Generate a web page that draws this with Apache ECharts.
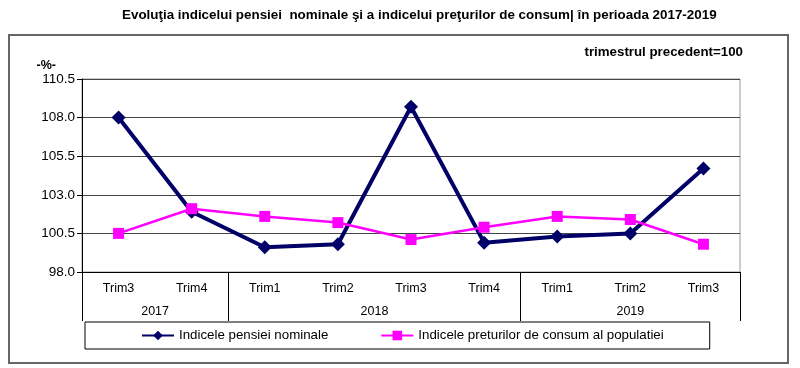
<!DOCTYPE html>
<html><head><meta charset="utf-8">
<script src="https://cdn.jsdelivr.net/npm/echarts@6/dist/echarts.min.js"></script>
<style>html,body{margin:0;padding:0;background:#fff}#c{width:800px;height:368px}</style>
</head><body><div id="c"></div>
<script>
const categories = ['Trim3','Trim4','Trim1','Trim2','Trim3','Trim4','Trim1','Trim2','Trim3'];
const years = ['2017','2018','2019'];
const yearSpans = [2, 4, 3];
const pension = [108.0, 101.9, 99.6, 99.8, 108.7, 99.9, 100.3, 100.5, 104.7];
const prices = [100.5, 102.1, 101.6, 101.2, 100.1, 100.9, 101.6, 101.4, 99.8];
const seriesNames = ['Indicele pensiei nominale', 'Indicele preturilor de consum al populatiei'];
const titleText = 'Evoluţia indicelui pensiei  nominale şi a indicelui preţurilor de consum| în perioada 2017-2019';
const subText = 'trimestrul precedent=100';
const yMin = 98.0, yMax = 110.5, yStep = 2.5;

// year boundaries and centres in category units
const yearBounds = [0];
yearSpans.forEach(s => yearBounds.push(yearBounds[yearBounds.length - 1] + s));
const yearCentres = years.map((y, i) => (yearBounds[i] + yearBounds[i + 1]) / 2);

const font = 'Arial, "Liberation Sans", sans-serif';
const chart = echarts.init(document.getElementById('c'), null, {renderer: 'canvas'});
chart.setOption({
  animation: false,
  textStyle: {fontFamily: font},
  title: [
    {text: titleText, left: 117, top: 4,
     textStyle: {fontFamily: font, fontWeight: 'bold', fontSize: 13.4, color: '#000'}},
    {text: subText, right: 52, top: 41,
     textStyle: {fontFamily: font, fontWeight: 'bold', fontSize: 13.3, color: '#000'}}
  ],
  graphic: [{type: 'rect', shape: {x: 9, y: 35, width: 779, height: 328},
    style: {fill: null, stroke: '#666', lineWidth: 2}, silent: true, z: -1}],
  grid: {left: 82, right: 60, top: 79, bottom: 96, show: true, borderColor: '#999', borderWidth: 1},
  legend: {
    left: 85, top: 322, padding: [7, 46, 7, 56], itemGap: 52,
    borderColor: '#000', borderWidth: 1, itemWidth: 32, itemHeight: 12,
    textStyle: {fontFamily: font, fontSize: 13.3, color: '#000'},
    data: seriesNames
  },
  xAxis: [
    {type: 'category', data: categories, boundaryGap: true,
     axisLine: {lineStyle: {color: '#000', width: 1}},
     axisTick: {interval: 0, length: 24, lineStyle: {color: '#000'}},
     axisLabel: {interval: 0, color: '#000', fontSize: 12.5, margin: 10, fontFamily: font}},
    {type: 'value', min: 0, max: categories.length, position: 'bottom', offset: 0,
     axisLine: {show: false}, splitLine: {show: false},
     axisTick: {show: true, customValues: yearBounds, length: 49, lineStyle: {color: '#000'}},
     axisLabel: {customValues: yearCentres, color: '#000', fontSize: 12.5, margin: 33, fontFamily: font,
       formatter: v => { const i = yearCentres.indexOf(v); return i >= 0 ? years[i] : ''; }}}
  ],
  yAxis: {
    type: 'value', min: yMin, max: yMax, interval: yStep,
    name: '-%-', nameLocation: 'end', nameGap: 5,
    nameTextStyle: {color: '#000', fontSize: 12.5, fontWeight: 'bold', align: 'right', padding: [0, 26, 0, 0], fontFamily: font},
    axisLine: {show: true, lineStyle: {color: '#000'}},
    axisTick: {show: true, length: 5, lineStyle: {color: '#000'}},
    axisLabel: {color: '#000', fontSize: 13.5, margin: 7, formatter: v => v.toFixed(1), fontFamily: font},
    splitLine: {lineStyle: {color: '#444', width: 1.2}}
  },
  series: [
    {name: seriesNames[0], type: 'line', data: pension, xAxisIndex: 0,
     symbol: 'diamond', symbolSize: 14, lineStyle: {color: '#000066', width: 4},
     itemStyle: {color: '#000066'}, z: 3},
    {name: seriesNames[1], type: 'line', data: prices, xAxisIndex: 0,
     symbol: 'rect', symbolSize: 11, lineStyle: {color: '#ff00ff', width: 2.5},
     itemStyle: {color: '#ff00ff'}, z: 4}
  ]
});
</script></body></html>
